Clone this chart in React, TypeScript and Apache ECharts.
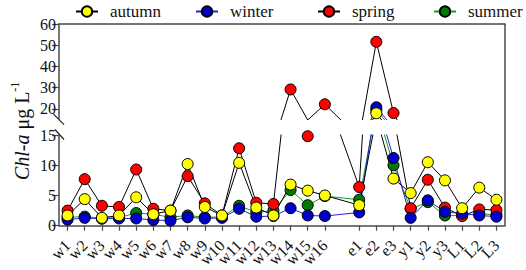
import React, { useEffect, useRef } from 'react';
import * as echarts from 'echarts';

// ---- data ----
const categories = ['w1', 'w2', 'w3', 'w4', 'w5', 'w6', 'w7', 'w8', 'w9', 'w10', 'w11', 'w12', 'w13', 'w14', 'w15', 'w16', '', 'e1', 'e2', 'e3', 'y1', 'y2', 'y3', 'L1', 'L2', 'L3'];
const autumn = [1.7, 4.4, 1.3, 1.7, 4.7, 1.9, 2.5, 10.2, 3.1, 1.7, 10.4, 3.0, 1.7, 6.8, 5.8, 5.0, null, 3.4, 18.0, 7.8, 5.4, 10.5, 7.5, 2.9, 6.3, 4.3];
const winter = [1.0, 1.3, 1.15, 1.2, 1.2, 0.95, 0.85, 1.4, 1.2, 1.3, 2.8, 1.5, 1.6, 2.9, 1.7, 1.6, null, 2.2, 20.8, 11.2, 1.3, 4.2, 2.3, 2.0, 1.7, 1.5];
const spring = [2.5, 7.7, 3.3, 3.1, 9.3, 2.8, 2.5, 8.2, 3.7, 1.7, 12.8, 3.8, 3.6, 29.2, 14.8, 22.2, null, 6.4, 51.6, 18.1, 2.9, 7.6, 3.0, 1.6, 2.7, 2.6];
const summer = [1.4, 1.5, 1.25, 1.35, 2.1, 1.9, 1.4, 1.7, 1.4, 1.45, 3.3, 2.2, 2.5, 5.9, 3.4, 4.9, null, 4.3, 19.5, 10.0, 2.8, 3.9, 1.7, 1.7, 2.0, 1.8];
const upperTicks = [20, 30, 40, 50, 60];
const lowerTicks = [0, 5, 10, 15];
const legendNames = ['autumn', 'winter', 'spring', 'summer'];

const W = 526;
const H = 270;
const LEFT = 59;
const RIGHT = 21;
const UPPER_TOP = 24;
const UPPER_H = 95.6;
const LOWER_TOP = 135;
const LOWER_H = 95;
const FONT = '"Liberation Serif", "Times New Roman", serif';
const AXIS_COLOR = '#4a4a4a';

export default function App() {
  const ref = useRef<HTMLDivElement>(null);
  useEffect(() => {
    const chart = echarts.init(ref.current as HTMLDivElement, null, { renderer: 'svg' });
    const defs = [
      { name: 'summer', data: summer, fill: '#007a00', line: '#12a012' },
      { name: 'spring', data: spring, fill: '#ff0000', line: '#000000' },
      { name: 'winter', data: winter, fill: '#0000c8', line: '#2323e6' },
      { name: 'autumn', data: autumn, fill: '#ffff00', line: '#000000' },
    ];
    const series: any[] = [];
    [0, 1].forEach((g) =>
      defs.forEach((d) =>
        series.push({
          type: 'line',
          name: d.name,
          xAxisIndex: g,
          yAxisIndex: g,
          data: d.data,
          connectNulls: true,
          clip: true,
          symbol: 'circle',
          symbolSize: 11,
          lineStyle: { color: d.line, width: 1 },
          itemStyle: { color: d.fill, borderColor: '#000', borderWidth: 1 },
          emphasis: { disabled: true },
        })
      )
    );
    const legendLefts = [75, 195, 317, 433];
    const legends = legendNames.map((n, i) => ({
      data: [n],
      left: legendLefts[i],
      top: 3,
      padding: 0,
      itemWidth: 22,
      itemHeight: 13,
      textStyle: { fontFamily: FONT, fontSize: 17, color: '#111', padding: [0, 0, 0, 7] },
      selectedMode: false,
    }));
    const axisLine = { show: true, onZero: false, lineStyle: { color: AXIS_COLOR, width: 1.5 } };
    const yLabel = { fontFamily: FONT, fontSize: 16, color: '#111', margin: 3 };
    chart.setOption({
      animation: false,
      legend: legends,
      grid: [
        { left: LEFT, right: RIGHT, top: UPPER_TOP, height: UPPER_H },
        { left: LEFT, right: RIGHT, top: LOWER_TOP, height: LOWER_H },
      ],
      xAxis: [
        {
          gridIndex: 0,
          type: 'category',
          data: categories,
          position: 'top',
          boundaryGap: true,
          axisLine,
          axisTick: { show: false },
          axisLabel: { show: false },
          splitLine: { show: false },
        },
        {
          gridIndex: 1,
          type: 'category',
          data: categories,
          position: 'bottom',
          boundaryGap: true,
          axisLine,
          axisTick: {
            show: true,
            alignWithLabel: true,
            length: 5,
            interval: (_i: number, v: string) => v !== '',
            lineStyle: { color: AXIS_COLOR, width: 1.2 },
          },
          axisLabel: { interval: 0, rotate: 45, fontFamily: FONT, fontSize: 16, color: '#111', margin: 17 },
          splitLine: { show: false },
        },
      ],
      yAxis: [
        {
          gridIndex: 0,
          type: 'value',
          min: 15,
          max: 60,
          axisLine,
          axisTick: { show: true, length: 7, customValues: upperTicks, lineStyle: { color: AXIS_COLOR, width: 1.2 } },
          axisLabel: { ...yLabel, customValues: upperTicks },
          splitLine: { show: false },
        },
        {
          gridIndex: 1,
          type: 'value',
          min: 0,
          max: 15,
          interval: 5,
          axisLine,
          axisTick: { show: true, length: 7, customValues: lowerTicks, lineStyle: { color: AXIS_COLOR, width: 1.2 } },
          axisLabel: { ...yLabel, customValues: lowerTicks },
          splitLine: { show: false },
        },
      ],
      series,
    });

    const yTop = chart.convertToPixel({ yAxisIndex: 0 }, 60) as number;
    const yUpBot = chart.convertToPixel({ yAxisIndex: 0 }, 15) as number;
    const yLowTop = chart.convertToPixel({ yAxisIndex: 1 }, 15) as number;
    const yBot = chart.convertToPixel({ yAxisIndex: 1 }, 0) as number;
    const xR = W - RIGHT;
    const lineStyle = { stroke: AXIS_COLOR, lineWidth: 1.5 };
    const markStyle = { stroke: '#222', lineWidth: 1.2 };
    chart.setOption({
      graphic: [
        { type: 'line', shape: { x1: xR, y1: yTop, x2: xR, y2: yBot }, style: lineStyle, silent: true },
        { type: 'line', shape: { x1: LEFT - 5.5, y1: yUpBot - 5.5, x2: LEFT + 5, y2: yUpBot + 5 }, style: markStyle, silent: true },
        { type: 'line', shape: { x1: LEFT - 4, y1: yLowTop - 5.5, x2: LEFT + 5, y2: yLowTop + 4.5 }, style: markStyle, silent: true },
        {
          type: 'text',
          x: 22,
          y: (yTop + yBot) / 2 + 6,
          rotation: Math.PI / 2,
          silent: true,
          style: {
            text: '{i|Chl-a} {n|μg L}{s|-1}',
            align: 'center',
            verticalAlign: 'middle',
            fill: '#111',
            fontFamily: FONT,
            fontSize: 20,
            rich: {
              i: { fontStyle: 'italic', fontFamily: FONT, fontSize: 20, lineHeight: 26, fill: '#111' },
              n: { fontFamily: FONT, fontSize: 20, lineHeight: 26, fill: '#111' },
              s: { fontFamily: FONT, fontSize: 12, lineHeight: 12, verticalAlign: 'top', fill: '#111' },
            },
          },
        },
      ],
    });
    return () => chart.dispose();
  }, []);
  return <div ref={ref} style={{ position: 'fixed', left: 0, top: 0, width: W, height: H, background: '#fff' }} />;
}
